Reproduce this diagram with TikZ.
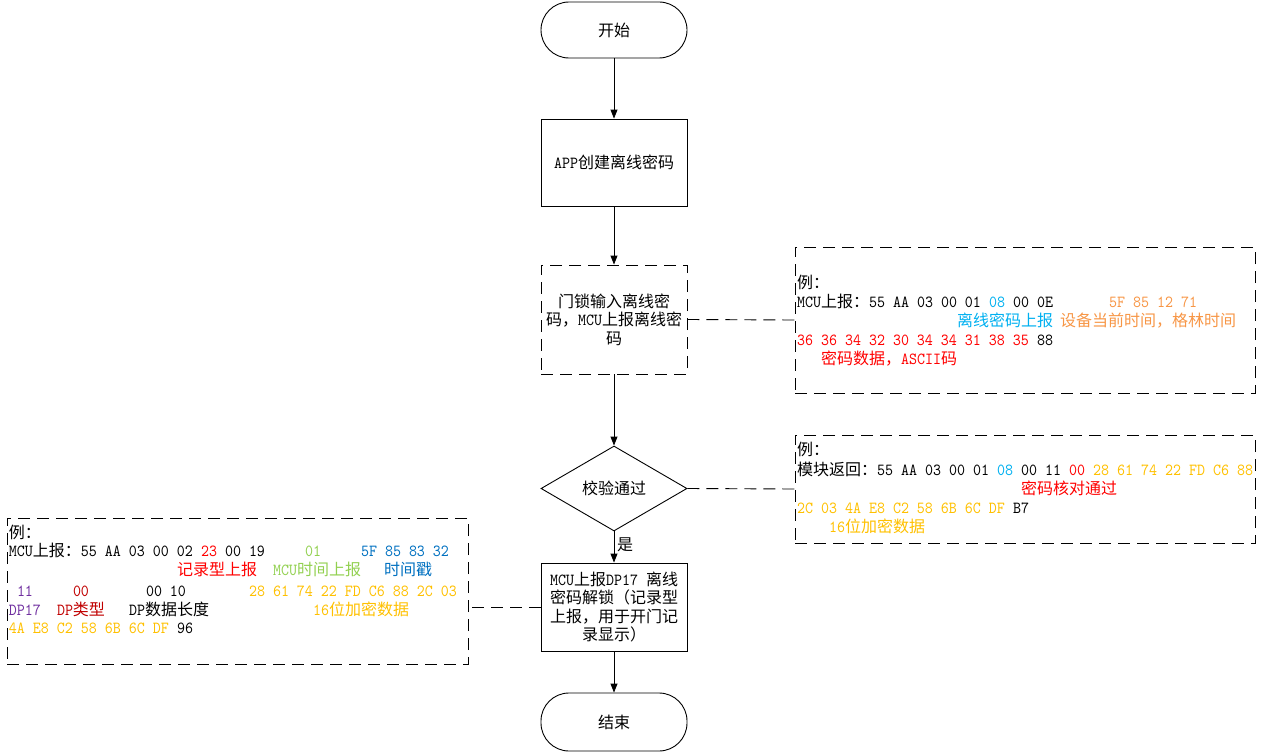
\documentclass[tikz,border=0pt]{standalone}
\usepackage{fontspec}
\usetikzlibrary{shapes.geometric,arrows.meta}
\newfontfamily\cjkf{Noto Sans CJK SC}
\newfontfamily\monof{lmmono10-regular}[Extension=.otf, FakeStretch=0.9]
\newcommand\cj[1]{{\cjkf\fontsize{16}{18.5}\selectfont #1}}
\newcommand\tm[1]{{\monof\fontsize{16.93}{18.5}\selectfont #1}}
\definecolor{cyanc}{HTML}{00B0F0}
\definecolor{lorange}{HTML}{F79646}
\definecolor{goldc}{HTML}{FFC000}
\definecolor{redc}{HTML}{FF0000}
\definecolor{greenc}{HTML}{92D050}
\definecolor{bluec}{HTML}{0070C0}
\definecolor{purplec}{HTML}{7030A0}
\definecolor{dredc}{HTML}{C00000}
\tikzset{
  base/.style={draw, line width=0.9pt, align=center, font=\fontsize{16}{18.5}\selectfont, inner sep=2pt},
  term/.style={base, rounded corners=28pt, minimum width=146pt},
  procbox/.style={base, rectangle, minimum width=146pt},
  dashbox/.style={procbox, dash pattern=on 12pt off 7pt},
  decision/.style={base, diamond, minimum width=146pt, minimum height=85pt, inner sep=0pt},
  infobox/.style={draw, line width=0.9pt, dash pattern=on 12pt off 7pt, rectangle, inner sep=0pt},
  arr/.style={line width=0.9pt, -{Triangle[length=9pt,width=7pt]}},
  dline/.style={line width=0.9pt, dash pattern=on 12pt off 7pt},
  txt/.style={anchor=base west, inner sep=0pt, outer sep=0pt},
}
\begin{document}
\begin{tikzpicture}[x=1pt,y=-1pt]
\useasboundingbox (0,0) rectangle (1269,752);
% flow nodes
\node[term, minimum height=56pt] (start) at (614,30) {\cj{开始}};
\node[procbox, minimum height=87pt] (app) at (614,162.5) {\tm{APP}\cj{创建离线密码}};
\node[dashbox, minimum height=109pt] (pwd) at (614,319.5) {\cj{门锁输入离线密}\\\cj{码，}\tm{MCU}\cj{上报离线密}\\\cj{码}};
\node[decision] (chk) at (614,488.5) {\cj{校验通过}};
\node[procbox, minimum height=88pt] (mcu) at (614,607) {\tm{MCU}\cj{上报}\tm{DP17 }\cj{离线}\\\cj{密码解锁（记录型}\\\cj{上报，用于开门记}\\\cj{录显示）}};
\node[term, minimum height=58pt] (end) at (614,722) {\cj{结束}};
% arrows
\draw[arr] (start) -- (app);
\draw[arr] (app) -- (pwd);
\draw[arr] (pwd) -- (chk);
\draw[arr] (chk) -- (mcu);
\draw[arr] (mcu) -- (end);
\node[anchor=west, inner sep=0pt] (yes) at (617,545) {\cj{是}};
% info boxes
\node[infobox, minimum width=460pt, minimum height=146pt] (info1) at (1025,320) {};
\node[infobox, minimum width=460pt, minimum height=108pt] (info2) at (1025,489) {};
\node[infobox, minimum width=461pt, minimum height=146pt] (info3) at (237.5,591) {};
\draw[dline] (pwd.east) -- (info1.west);
\draw[dline] (chk.east) -- (info2.west);
\draw[dline] (mcu.west) -- (mcu.west -| info3.east);
% info1 text (x0=797, col=8)
\node[txt] (a1) at (797,288.5) {\cj{例：}};
\node[txt] (a2) at (797,307.5) {\tm{MCU}\cj{上报：}\tm{55 AA 03 00 01}};
\node[txt, text=cyanc] (a3) at (989,307.5) {\tm{08}};
\node[txt] (a4) at (1013,307.5) {\tm{00 0E}};
\node[txt, text=lorange] (a5) at (1109,307.5) {\tm{5F 85 12 71}};
\node[txt, text=cyanc] (a6) at (957,326.5) {\cj{离线密码上报}};
\node[txt, text=lorange] (a7) at (1060,326.5) {\cj{设备当前时间，格林时间}};
\node[txt, text=redc] (a8) at (797,345.5) {\tm{36 36 34 32 30 34 34 31 38 35}};
\node[txt] (a9) at (1037,345.5) {\tm{88}};
\node[txt, text=redc] (a10) at (821,364.5) {\cj{密码数据，}\tm{ASCII}\cj{码}};
% info2 text
\node[txt] (b1) at (797,455.5) {\cj{例：}};
\node[txt] (b2) at (797,475.5) {\cj{模块返回：}\tm{55 AA 03 00 01}};
\node[txt, text=cyanc] (b3) at (997,475.5) {\tm{08}};
\node[txt] (b4) at (1021,475.5) {\tm{00 11}};
\node[txt, text=redc] (b5) at (1069,475.5) {\tm{00}};
\node[txt, text=goldc] (b6) at (1093,475.5) {\tm{28 61 74 22 FD C6 88}};
\node[txt, text=redc] (b7) at (1021,494.5) {\cj{密码核对通过}};
\node[txt, text=goldc] (b8) at (797,513.5) {\tm{2C 03 4A E8 C2 58 6B 6C DF}};
\node[txt] (b9) at (1013,513.5) {\tm{B7}};
\node[txt, text=goldc] (b10) at (829,532.5) {\tm{16}\cj{位加密数据}};
% info3 text (x0=9)
\node[txt] (c1) at (9,538.5) {\cj{例：}};
\node[txt] (c2) at (9,556.5) {\tm{MCU}\cj{上报：}\tm{55 AA 03 00 02}};
\node[txt, text=redc] (c3) at (201,556.5) {\tm{23}};
\node[txt] (c4) at (225,556.5) {\tm{00 19}};
\node[txt, text=greenc] (c5) at (305,556.5) {\tm{01}};
\node[txt, text=bluec] (c6) at (361,556.5) {\tm{5F 85 83 32}};
\node[txt, text=redc] (c7) at (177,575.5) {\cj{记录型上报}};
\node[txt, text=greenc] (c8) at (273,575.5) {\tm{MCU}\cj{时间上报}};
\node[txt, text=bluec] (c9) at (384,575.5) {\cj{时间戳}};
\node[txt, text=purplec] (c10) at (17,596.5) {\tm{11}};
\node[txt, text=dredc] (c11) at (73,596.5) {\tm{00}};
\node[txt] (c12) at (146,596.5) {\tm{00 10}};
\node[txt, text=goldc] (c13) at (249,596.5) {\tm{28 61 74 22 FD C6 88 2C 03}};
\node[txt, text=purplec] (c14) at (9,615.5) {\tm{DP17}};
\node[txt, text=dredc] (c15) at (57,615.5) {\tm{DP}\cj{类型}};
\node[txt] (c16) at (129,615.5) {\tm{DP}\cj{数据长度}};
\node[txt, text=goldc] (c17) at (313,615.5) {\tm{16}\cj{位加密数据}};
\node[txt, text=goldc] (c18) at (9,633.5) {\tm{4A E8 C2 58 6B 6C DF}};
\node[txt] (c19) at (177,633.5) {\tm{96}};
\end{tikzpicture}
\end{document}
